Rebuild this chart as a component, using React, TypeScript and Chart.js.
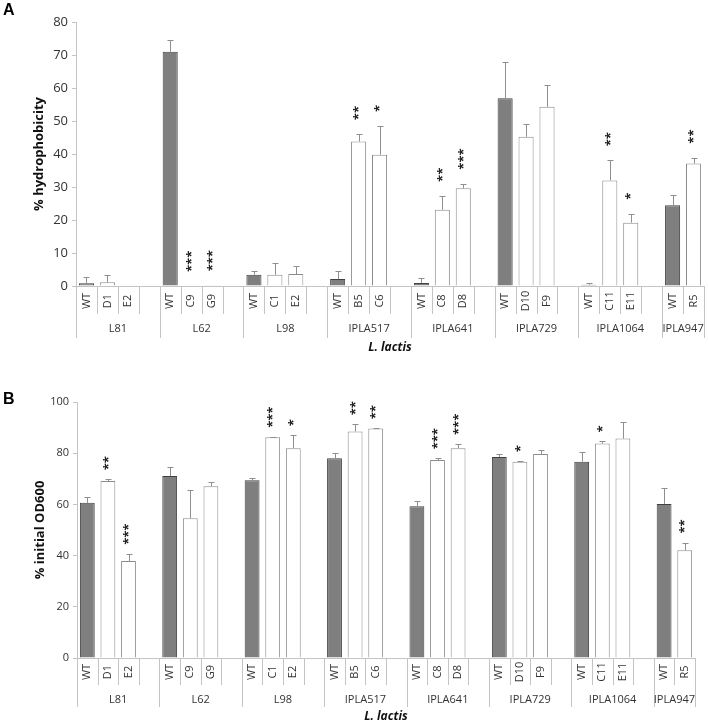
import React, { useEffect, useRef } from "react";
import { Chart, registerables } from "chart.js";

Chart.register(...registerables);

const groupNames = ["L81", "L62", "L98", "IPLA517", "IPLA641", "IPLA729", "IPLA1064", "IPLA947"];
const groupSlotCounts = [4, 4, 4, 4, 4, 4, 4, 2];
const strainLabels = [
  "WT", "D1", "E2", "",
  "WT", "C9", "G9", "",
  "WT", "C1", "E2", "",
  "WT", "B5", "C6", "",
  "WT", "C8", "D8", "",
  "WT", "D10", "F9", "",
  "WT", "C11", "E11", "",
  "WT", "R5",
];

// Panel A: % hydrophobicity
const hydroValues = [
  0.8, 1.1, 0, null,
  71.0, 0, 0.2, null,
  3.4, 3.4, 3.6, null,
  2.1, 43.8, 39.8, null,
  0.9, 23.1, 29.6, null,
  56.9, 45.2, 54.3, null,
  0.4, 32.0, 19.2, null,
  24.5, 37.1,
];
const hydroErrors = [
  1.8, 2.2, 0, 0,
  3.6, 0, 0, 0,
  1.1, 3.5, 2.4, 0,
  2.3, 2.2, 8.7, 0,
  1.5, 4.2, 1.4, 0,
  11.1, 4.0, 6.6, 0,
  0.4, 6.1, 2.7, 0,
  3.2, 1.8,
];
const hydroStars = [
  "", "", "", "",
  "", "***", "***", "",
  "", "", "", "",
  "", "**", "*", "",
  "", "**", "***", "",
  "", "", "", "",
  "", "**", "*", "",
  "", "**",
];

// Panel B: % initial OD600
const odValues = [
  60.6, 69.1, 37.9, null,
  71.1, 54.6, 67.1, null,
  69.4, 86.2, 81.9, null,
  78.0, 88.5, 89.6, null,
  59.3, 77.3, 81.9, null,
  78.5, 76.7, 79.7, null,
  76.7, 83.8, 85.7, null,
  60.2, 42.1,
];
const odErrors = [
  2.1, 0.7, 2.8, 0,
  3.7, 11.2, 1.7, 0,
  1.0, 0.2, 5.1, 0,
  2.2, 2.8, 0.1, 0,
  2.0, 0.7, 1.7, 0,
  1.0, 0.2, 1.5, 0,
  3.7, 0.8, 6.3, 0,
  6.3, 3.0,
];
const odStars = [
  "", "**", "***", "",
  "", "", "", "",
  "", "***", "*", "",
  "", "**", "**", "",
  "", "***", "***", "",
  "", "*", "", "",
  "", "*", "", "",
  "", "**",
];

const FONT = "'Open Sans', 'DejaVu Sans', sans-serif";

type PanelOpts = {
  width: number;
  height: number;
  padTop: number;
  padBottom: number;
  axisWidth: number;
  padRight: number;
  yMax: number;
  step: number;
  tickFont: number;
  title: string;
  titleX: number;
  letter: string;
  letterY: number;
  subSep: number;
  groupSep: number;
  subLabelY: number;
  groupLabelY: number;
  speciesY: number;
  starGap: number;
  values: (number | null)[];
  errors: number[];
  stars: string[];
};

function buildChart(canvas: HTMLCanvasElement, p: PanelOpts) {
  const isWT = strainLabels.map((l) => l === "WT");
  const overlay = {
    id: "overlay" + p.letter,
    afterDatasetsDraw(chart: any) {
      const ctx = chart.ctx as CanvasRenderingContext2D;
      const area = chart.chartArea;
      const ys = chart.scales.y;
      const meta = chart.getDatasetMeta(0);
      const n = strainLabels.length;
      const slot = (area.right - area.left) / n;
      const zero = ys.getPixelForValue(0);
      ctx.save();
      // error bars
      ctx.strokeStyle = "#8f8f8f";
      ctx.lineWidth = 1;
      meta.data.forEach((bar: any, i: number) => {
        const v = p.values[i];
        const e = p.errors[i];
        if (v == null || !e) return;
        const x = Math.round(bar.x) + 0.5;
        const y0 = ys.getPixelForValue(v);
        const y1 = Math.round(ys.getPixelForValue(v + e)) + 0.5;
        ctx.beginPath();
        ctx.moveTo(x, y0);
        ctx.lineTo(x, y1);
        ctx.moveTo(x - 3, y1);
        ctx.lineTo(x + 3, y1);
        ctx.stroke();
      });
      // stars
      ctx.fillStyle = "#222";
      ctx.font = `bold 13px ${FONT}`;
      meta.data.forEach((bar: any, i: number) => {
        const s = p.stars[i];
        if (!s) return;
        const v = p.values[i] ?? 0;
        const e = p.errors[i] || 0;
        const yTop = ys.getPixelForValue(v + e) - p.starGap;
        ctx.save();
        ctx.translate(bar.x, yTop);
        ctx.rotate(-Math.PI / 2);
        ctx.textAlign = "left";
        ctx.textBaseline = "middle";
        ctx.fillText(s, 0, 1);
        ctx.restore();
      });
      // x axis line
      ctx.strokeStyle = "#c4c4c4";
      ctx.beginPath();
      ctx.moveTo(area.left, Math.round(zero) + 0.5);
      ctx.lineTo(area.right, Math.round(zero) + 0.5);
      ctx.stroke();
      // separators
      const groupBounds = new Set<number>();
      let acc = 0;
      groupBounds.add(0);
      groupSlotCounts.forEach((c) => {
        acc += c;
        groupBounds.add(acc);
      });
      for (let i = 0; i <= n; i++) {
        const x = Math.round(area.left + i * slot) + 0.5;
        const len = groupBounds.has(i) ? p.groupSep : p.subSep;
        ctx.beginPath();
        ctx.moveTo(x, zero);
        ctx.lineTo(x, zero + len);
        ctx.stroke();
      }
      // strain labels
      ctx.fillStyle = "#333";
      ctx.font = `11px ${FONT}`;
      strainLabels.forEach((l, i) => {
        if (!l) return;
        const x = area.left + (i + 0.5) * slot;
        ctx.save();
        ctx.translate(x, zero + p.subLabelY);
        ctx.rotate(-Math.PI / 2);
        ctx.textAlign = "center";
        ctx.textBaseline = "middle";
        ctx.fillText(l, 0, 0);
        ctx.restore();
      });
      // group labels
      acc = 0;
      ctx.textAlign = "center";
      ctx.textBaseline = "middle";
      groupNames.forEach((g, gi) => {
        const c = groupSlotCounts[gi];
        const x = area.left + (acc + c / 2) * slot;
        ctx.fillText(g, x, zero + p.groupLabelY);
        acc += c;
      });
      // species title
      ctx.fillStyle = "#111";
      ctx.font = `italic bold 12px ${FONT}`;
      ctx.fillText("L. lactis", (area.left + area.right) / 2, zero + p.speciesY);
      // y title
      ctx.font = `bold 13px ${FONT}`;
      ctx.save();
      ctx.translate(p.titleX, (area.top + area.bottom) / 2);
      ctx.rotate(-Math.PI / 2);
      ctx.fillText(p.title, 0, 0);
      ctx.restore();
      // panel letter
      ctx.font = `bold 16px 'Liberation Sans', Arial, sans-serif`;
      ctx.textAlign = "left";
      ctx.fillStyle = "#000";
      ctx.fillText(p.letter, 3, p.letterY);
      ctx.restore();
    },
  };

  return new Chart(canvas, {
    type: "bar",
    data: {
      labels: strainLabels,
      datasets: [
        {
          data: p.values as any,
          backgroundColor: isWT.map((w) => (w ? "#7f7f7f" : "#ffffff")),
          borderColor: isWT.map((w) => (w ? "#404040" : "#8c8c8c")),
          borderWidth: 1,
          barPercentage: 0.72,
          categoryPercentage: 1,
        },
      ],
    },
    options: {
      responsive: false,
      animation: false,
      devicePixelRatio: 1,
      layout: {
        padding: { top: p.padTop, bottom: p.padBottom, left: 0, right: p.padRight },
      },
      plugins: {
        legend: { display: false },
        tooltip: { enabled: false },
      },
      scales: {
        x: { display: false, offset: true },
        y: {
          min: 0,
          max: p.yMax,
          afterFit: (scale: any) => {
            scale.width = p.axisWidth;
          },
          ticks: {
            stepSize: p.step,
            font: { family: FONT, size: p.tickFont },
            color: "#333",
            padding: 4,
          },
          grid: {
            drawOnChartArea: false,
            drawTicks: true,
            tickLength: 4,
            color: "#c4c4c4",
          },
          border: { color: "#c4c4c4" },
        },
      },
    },
    plugins: [overlay],
  });
}

const panelA: PanelOpts = {
  width: 709,
  height: 365,
  padTop: 22,
  padBottom: 79,
  axisWidth: 76,
  padRight: 5,
  yMax: 80,
  step: 10,
  tickFont: 13,
  title: "% hydrophobicity",
  titleX: 39,
  letter: "A",
  letterY: 11,
  subSep: 28,
  groupSep: 52,
  subLabelY: 15,
  groupLabelY: 43,
  speciesY: 62,
  starGap: 14,
  values: hydroValues,
  errors: hydroErrors,
  stars: hydroStars,
};

const panelB: PanelOpts = {
  width: 709,
  height: 363,
  padTop: 37,
  padBottom: 70,
  axisWidth: 77,
  padRight: 14,
  yMax: 100,
  step: 20,
  tickFont: 11,
  title: "% initial OD600",
  titleX: 40,
  letter: "B",
  letterY: 35,
  subSep: 27,
  groupSep: 49,
  subLabelY: 14,
  groupLabelY: 42,
  speciesY: 59,
  starGap: 9,
  values: odValues,
  errors: odErrors,
  stars: odStars,
};

export default function App() {
  const refA = useRef<HTMLCanvasElement | null>(null);
  const refB = useRef<HTMLCanvasElement | null>(null);
  useEffect(() => {
    const a = buildChart(refA.current!, panelA);
    const b = buildChart(refB.current!, panelB);
    return () => {
      a.destroy();
      b.destroy();
    };
  }, []);
  return (
    <div style={{ position: "absolute", left: 0, top: 0, width: 709, height: 728, background: "#fff" }}>
      <canvas
        ref={refA}
        width={panelA.width}
        height={panelA.height}
        style={{ position: "absolute", left: 0, top: 0, width: panelA.width, height: panelA.height }}
      />
      <canvas
        ref={refB}
        width={panelB.width}
        height={panelB.height}
        style={{ position: "absolute", left: 0, top: 365, width: panelB.width, height: panelB.height }}
      />
    </div>
  );
}
